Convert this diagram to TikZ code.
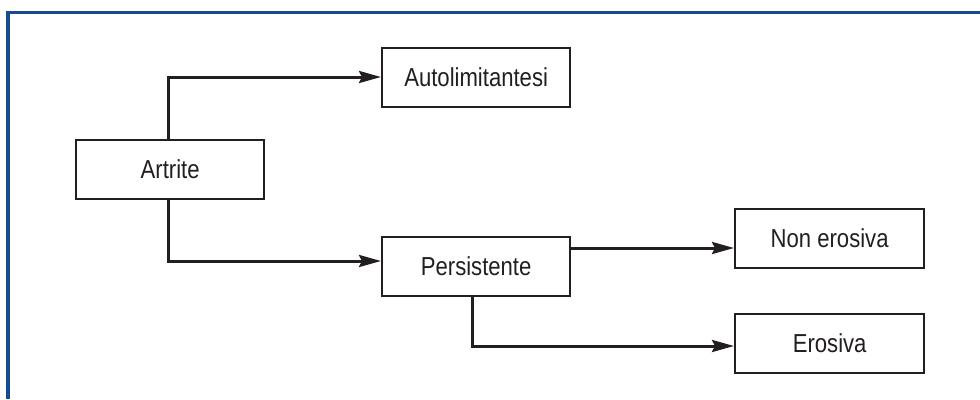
\documentclass[tikz,border=0pt]{standalone}
\usepackage{fontspec}
\setmainfont[FakeStretch=0.85]{Liberation Sans}
\usetikzlibrary{arrows.meta}
\definecolor{frameblue}{RGB}{22,76,142}
\definecolor{ink}{RGB}{35,31,32}
\begin{document}
\begin{tikzpicture}[x=1pt,y=-1pt,
  boxnode/.style={draw=ink,line width=2.3pt,fill=white,text=ink,font=\fontsize{26}{30}\selectfont,inner sep=0pt,anchor=north west},
  conn/.style={draw=ink,line width=3pt,-{Stealth[length=22pt,width=12pt,inset=3pt]}}]
\useasboundingbox (0,0) rectangle (980,399);
\fill[white] (0,0) rectangle (980,399);
\draw[frameblue,line width=3.2pt] (8,399) -- (8,12.5) -- (980,12.5);
\node[boxnode,minimum width=188pt,minimum height=59pt] (art) at (75,139) {Artrite};
\node[boxnode,minimum width=188pt,minimum height=59pt] (auto) at (381,47) {Autolimitantesi};
\node[boxnode,minimum width=188pt,minimum height=59pt] (pers) at (381,236) {Persistente};
\node[boxnode,minimum width=189pt,minimum height=59pt] (non) at (734,208) {Non erosiva};
\node[boxnode,minimum width=189pt,minimum height=59pt] (ero) at (734,313) {Erosiva};
\coordinate (a1) at (168,77);
\coordinate (a2) at (168,261);
\coordinate (p1) at (472,346);
\draw[conn] (art.north -| a1) -- (a1) -- (auto.west |- a1);
\draw[conn] (art.south -| a2) -- (a2) -- (pers.west |- a2);
\draw[conn] (pers.east |- 0,248) -- (non.west |- 0,248);
\draw[conn] (pers.south -| p1) -- (p1) -- (ero.west |- p1);
\end{tikzpicture}
\end{document}
